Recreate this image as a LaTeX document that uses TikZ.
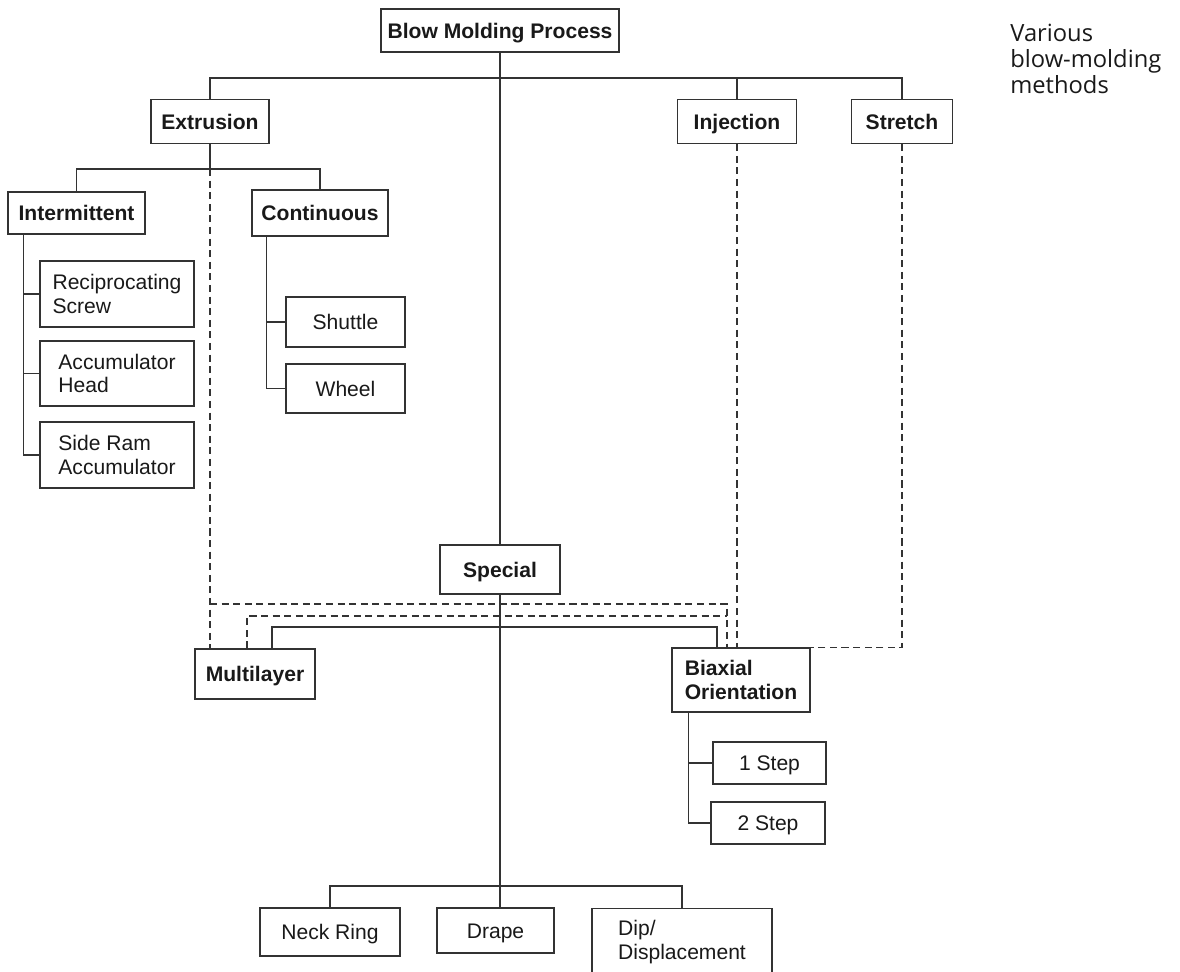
\documentclass[tikz,border=0pt]{standalone}
\usepackage{fontspec}
\setmainfont{Liberation Sans}
\newfontfamily\notefont{Open Sans}
\usetikzlibrary{positioning}

\tikzset{
  procbox/.style={draw=black!80, line width=0.8pt, inner sep=0pt, align=left,
    text=black!90, font=\fontsize{12}{13.6}\selectfont},
  catbox/.style={procbox, font=\bfseries\fontsize{12}{13.6}\selectfont},
  oneline/.style={text height=8.6pt, text depth=0pt},
  wh/.style 2 args={minimum width=#1*0.02cm, minimum height=#2*0.02cm},
  link/.style={draw=black!80, line width=0.8pt},
  dlink/.style={link, dash pattern=on 4pt off 2.6pt},
}

\begin{document}
\begin{tikzpicture}[x=0.02cm, y=-0.02cm]

\useasboundingbox (0,0) rectangle (1180,971);
\clip (0,0) rectangle (1180,971);

% main categories
\node[catbox, oneline, wh={238}{43}] (bmp) at (500,30.5) {Blow Molding Process};
\node[catbox, oneline, wh={118}{44}] (extr) at (210,121.5) {Extrusion};
\node[catbox, oneline, wh={119}{44}] (inj) at (737,121.5) {Injection};
\node[catbox, oneline, wh={101}{44}] (str) at (902,121.5) {Stretch};
\node[catbox, oneline, wh={120}{49}] (special) at (500,569.5) {Special};

% extrusion branch
\node[catbox, oneline, wh={137}{42}] (inter) at (76.5,213) {Intermittent};
\node[catbox, oneline, wh={136}{46}] (cont) at (320,213) {Continuous};
\node[procbox, wh={154}{66}] (recip) at (117,294) {Reciprocating\\Screw};
\node[procbox, wh={154}{65}] (acchead) at (117,373.5) {Accumulator\\Head};
\node[procbox, wh={154}{66}] (sideram) at (117,455) {Side Ram\\Accumulator};
\node[procbox, oneline, wh={119}{50}] (shut) at (345.5,322) {Shuttle};
\node[procbox, oneline, wh={119}{49}] (wheel) at (345.5,388.5) {Wheel};

% special branch
\node[catbox, oneline, wh={120}{50}] (multi) at (255,674) {Multilayer};
\node[catbox, wh={138}{64}] (biax) at (741,680) {Biaxial\\Orientation};
\node[procbox, oneline, wh={113}{42}] (step1) at (769.5,763) {1 Step};
\node[procbox, oneline, wh={114}{42}] (step2) at (768,823) {2 Step};
\node[procbox, oneline, wh={140}{48}] (neck) at (330,932) {Neck Ring};
\node[procbox, oneline, wh={117}{45}] (drape) at (495.5,930.5) {Drape};
\node[procbox, anchor=north, minimum width=180*0.02cm, inner ysep=6.8pt] (dip) at (682,908) {Dip/\\Displacement};

% note
\node[anchor=north west, align=left, inner sep=0pt, text=black!90,
  font=\notefont\fontsize{13.5}{14.7}\selectfont] (note) at (1010,24)
  {Various\\blow-molding\\methods};

% bars
\coordinate (topbar) at (0,78);
\coordinate (extbar) at (0,169);
\coordinate (outerbar) at (0,604);
\coordinate (innerbar) at (0,616);
\coordinate (specbar) at (0,627);
\coordinate (botbar) at (0,886);

% entry points
\coordinate (interspine) at ([xshift=0.32cm]inter.south west);
\coordinate (contspine) at ([xshift=0.3cm]cont.south west);
\coordinate (bxspine) at ([xshift=0.34cm]biax.south west);
\coordinate (mlin) at ([xshift=0.34cm]multi.north);
\coordinate (mlmid) at ([xshift=-0.16cm]multi.north);
\coordinate (bxin) at ([xshift=-0.48cm]biax.north);
\coordinate (bxout) at ([xshift=-0.28cm]biax.north);

% solid tree
\draw[link] (bmp.south) -- (special.north);
\draw[link] (extr.north) |- (topbar -| str.north) -- (str.north);
\draw[link] (inj.north) -- (inj.north |- topbar);

\draw[link] (extr.south) -- (extr.south |- extbar);
\draw[link] (inter.north) |- (extbar -| cont.north) -- (cont.north);
\draw[link] (interspine) |- (sideram.west);
\foreach \n in {recip,acchead}
  \draw[link] (\n.west) -- (\n.west -| interspine);
\draw[link] (contspine) |- (wheel.west);
\draw[link] (shut.west) -- (shut.west -| contspine);

\draw[link] (special.south) -- (special.south |- drape.north);
\draw[link] (mlin) |- (specbar -| bxin) -- (bxin);
\draw[link] (neck.north) |- (botbar -| dip.north) -- (dip.north);
\draw[link] (bxspine) |- (step2.west);
\draw[link] (step1.west) -- (step1.west -| bxspine);

% dashed links
\draw[dlink] (extr.south |- extbar) -- (extr.south |- multi.north);
\draw[dlink] (extr.south |- outerbar) -| (bxout);
\draw[dlink] (mlmid) |- (innerbar -| bxout);
\draw[dlink] (inj.south) -- (inj.south |- biax.north);
\draw[dlink] (str.south) |- (biax.north east);

\end{tikzpicture}
\end{document}
